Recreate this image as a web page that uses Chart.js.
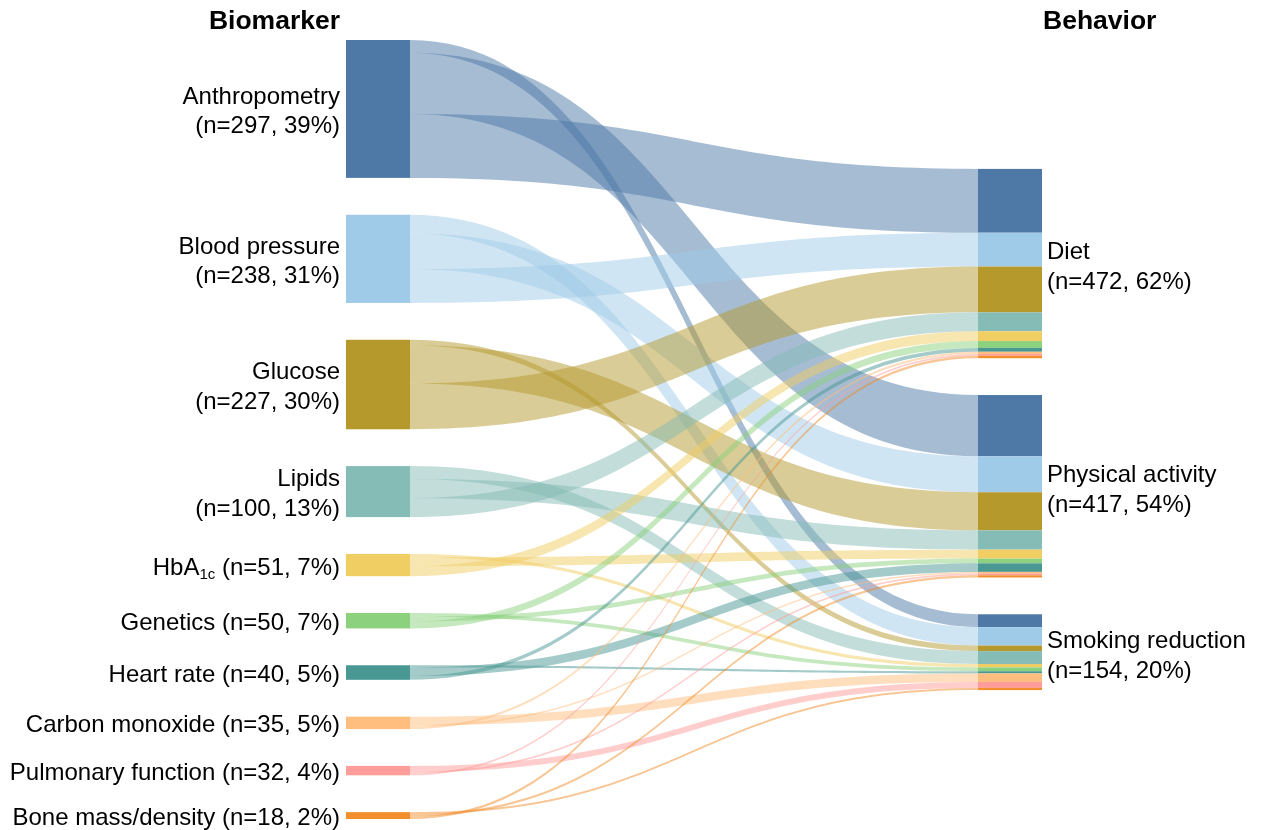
<!DOCTYPE html>
<html><head><meta charset="utf-8">
<script src="https://cdn.jsdelivr.net/npm/chart.js@4.4.1/dist/chart.umd.min.js"></script>
<style>html,body{margin:0;padding:0;background:#fff;overflow:hidden}</style>
</head><body>
<canvas id="c" width="1261" height="830"></canvas>
<script>
// ---- data ----
const biomarkers = ['Anthropometry','Blood pressure','Glucose','Lipids','HbA1c','Genetics','Heart rate','Carbon monoxide','Pulmonary function','Bone mass/density'];
const biomarkerN = [297,238,227,100,51,50,40,35,32,18];
const biomarkerPct = [39,31,30,13,7,7,5,5,4,2];
const behaviors = ['Diet','Physical activity','Smoking reduction'];
const behaviorN = [472,417,154];
const behaviorPct = [62,54,20];
// flow sizes from each biomarker (same order as biomarkers) into each behavior
const dietFlows     = [149,79,107,44,23,16,9,5,4,6];
const activityFlows = [143,84,89,45,21,11,20,4,4,5];
const smokingFlows  = [30,43,13,30,8,9,5,20,14,5];
const colors = ['#4e79a7','#a0cbe8','#b6992d','#86bcb6','#f1ce63','#8cd17d','#499894','#ffbe7d','#ff9d9a','#f28e2b'];

// ---- layout constants ----
const GAP = 86;       // node padding in value units
const NODE_W = 64;    // px
const FONT = '"Liberation Sans", Arial, Helvetica, sans-serif';
const FS = 24, LH = 29.5;

const flows = [dietFlows, activityFlows, smokingFlows];
const srcTotal = biomarkers.map((_, s) => flows.reduce((a, f) => a + f[s], 0));
const tgtTotal = flows.map(f => f.reduce((a, b) => a + b, 0));
const leftSpan = srcTotal.reduce((a, b) => a + b, 0) + GAP * (biomarkers.length - 1);
const rightSpan = tgtTotal.reduce((a, b) => a + b, 0) + GAP * (behaviors.length - 1);

const srcTop = []; { let acc = 0; srcTotal.forEach((v) => { srcTop.push(acc); acc += v + GAP; }); }
const tgtTop = []; { let acc = (leftSpan - rightSpan) / 2; tgtTotal.forEach((v) => { tgtTop.push(acc); acc += v + GAP; }); }

// link positions (value units)
const links = [];
biomarkers.forEach((_, s) => {
  let off = srcTop[s];
  for (let t = behaviors.length - 1; t >= 0; t--) {
    links.push({ s, t, v: flows[t][s], y0: off });
    off += flows[t][s];
  }
});
behaviors.forEach((_, t) => {
  let off = tgtTop[t];
  biomarkers.forEach((_, s) => {
    const l = links.find(k => k.s === s && k.t === t);
    l.y1 = off; off += l.v;
  });
});

function hexA(hex, a) {
  const n = parseInt(hex.slice(1), 16);
  return `rgba(${(n >> 16) & 255},${(n >> 8) & 255},${n & 255},${a})`;
}

const sankeyPlugin = {
  id: 'sankey',
  afterDatasetsDraw(chart) {
    const { ctx, scales: { x, y } } = chart;
    const xL = x.getPixelForValue(0), xR = x.getPixelForValue(1);
    const x0 = xL + NODE_W, x1 = xR - NODE_W, xm = (x0 + x1) / 2;
    ctx.save();
    // links
    links.forEach(l => {
      const a0 = y.getPixelForValue(l.y0), a1 = y.getPixelForValue(l.y0 + l.v);
      const b0 = y.getPixelForValue(l.y1), b1 = y.getPixelForValue(l.y1 + l.v);
      ctx.beginPath();
      ctx.moveTo(x0, a0);
      ctx.bezierCurveTo(xm, a0, xm, b0, x1, b0);
      ctx.lineTo(x1, b1);
      ctx.bezierCurveTo(xm, b1, xm, a1, x0, a1);
      ctx.closePath();
      ctx.fillStyle = hexA(colors[l.s], 0.5);
      ctx.fill();
    });
    // left nodes
    biomarkers.forEach((_, s) => {
      const p0 = y.getPixelForValue(srcTop[s]), p1 = y.getPixelForValue(srcTop[s] + srcTotal[s]);
      ctx.fillStyle = colors[s];
      ctx.fillRect(xL, p0, NODE_W, p1 - p0);
    });
    // right nodes, stacked by source
    links.forEach(l => {
      const b0 = y.getPixelForValue(l.y1), b1 = y.getPixelForValue(l.y1 + l.v);
      ctx.fillStyle = colors[l.s];
      ctx.fillRect(x1, b0, NODE_W, b1 - b0);
    });
    // labels
    ctx.fillStyle = '#000';
    ctx.textBaseline = 'middle';
    ctx.font = `${FS}px ${FONT}`;
    biomarkers.forEach((name, s) => {
      const cy = (y.getPixelForValue(srcTop[s]) + y.getPixelForValue(srcTop[s] + srcTotal[s])) / 2 + 3;
      const tx = xL - 6;
      const cnt = `(n=${biomarkerN[s]}, ${biomarkerPct[s]}%)`;
      ctx.textAlign = 'right';
      if (s < 4) {
        ctx.fillText(name, tx, cy - LH / 2);
        ctx.fillText(cnt, tx, cy + LH / 2);
      } else if (name === 'HbA1c') {
        const tail = ' ' + cnt;
        const subF = `${Math.round(FS * 0.62)}px ${FONT}`;
        ctx.font = `${FS}px ${FONT}`;
        const wTail = ctx.measureText(tail).width;
        const wMain = ctx.measureText('HbA').width;
        ctx.font = subF;
        const wSub = ctx.measureText('1c').width;
        const sx = tx - wTail - wSub - wMain;
        ctx.textAlign = 'left';
        ctx.font = `${FS}px ${FONT}`;
        ctx.fillText('HbA', sx, cy);
        ctx.font = subF;
        ctx.fillText('1c', sx + wMain, cy + 7);
        ctx.font = `${FS}px ${FONT}`;
        ctx.fillText(tail, sx + wMain + wSub, cy);
      } else {
        ctx.fillText(`${name} ${cnt}`, tx, cy);
      }
    });
    ctx.textAlign = 'left';
    ctx.font = `${FS}px ${FONT}`;
    behaviors.forEach((name, t) => {
      const cy = (y.getPixelForValue(tgtTop[t]) + y.getPixelForValue(tgtTop[t] + tgtTotal[t])) / 2 + 4;
      const tx = xR + 5;
      ctx.fillText(name, tx, cy - LH / 2);
      ctx.fillText(`(n=${behaviorN[t]}, ${behaviorPct[t]}%)`, tx, cy + LH / 2);
    });
    ctx.font = `bold 26.5px ${FONT}`;
    ctx.textAlign = 'right';
    ctx.fillText('Biomarker', xL - 6, 22);
    ctx.textAlign = 'left';
    ctx.fillText('Behavior', xR + 1, 22);
    ctx.restore();
  }
};

new Chart(document.getElementById('c'), {
  type: 'scatter',
  data: {
    datasets: [{
      data: biomarkers.map((_, s) => ({ x: 0, y: srcTop[s] + srcTotal[s] / 2 }))
        .concat(behaviors.map((_, t) => ({ x: 1, y: tgtTop[t] + tgtTotal[t] / 2 }))),
      pointRadius: 0
    }]
  },
  options: {
    responsive: false,
    animation: false,
    layout: { padding: { top: 40, bottom: 11, left: 346, right: 219 } },
    scales: {
      x: { type: 'linear', min: 0, max: 1, display: false },
      y: { type: 'linear', min: 0, max: leftSpan, reverse: true, display: false }
    },
    plugins: { legend: { display: false }, tooltip: { enabled: false } }
  },
  plugins: [sankeyPlugin]
});
</script>
</body></html>
